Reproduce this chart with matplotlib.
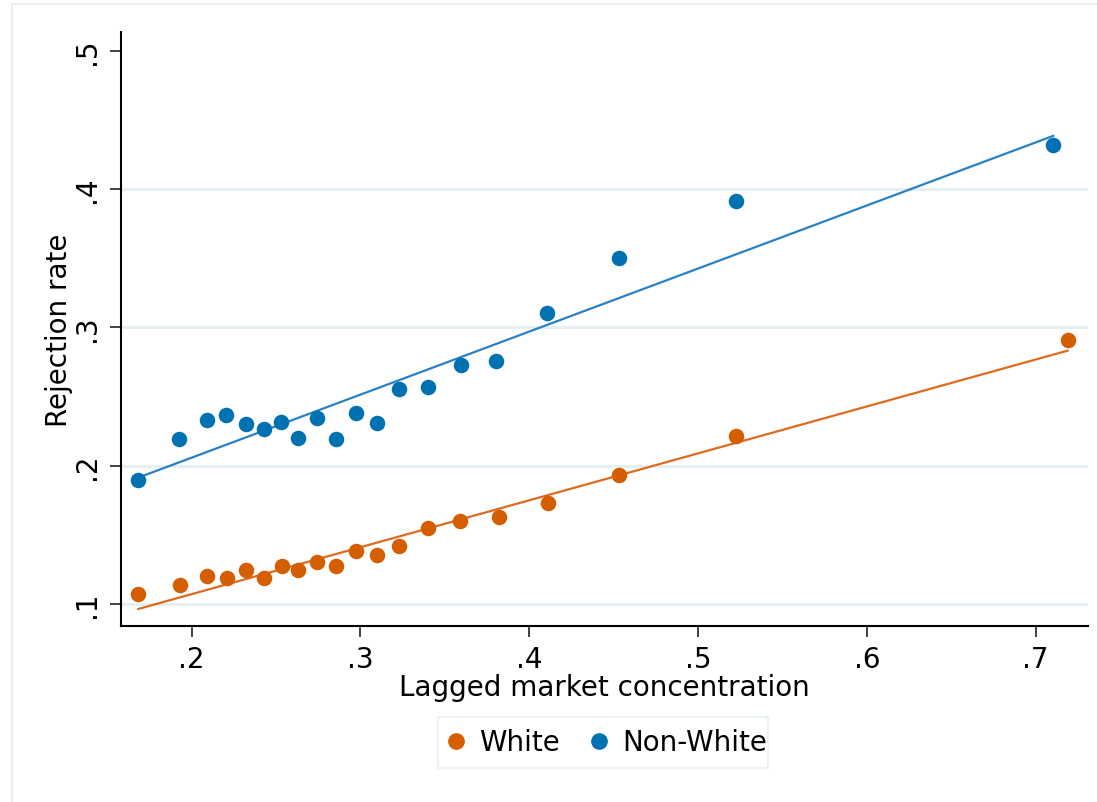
import matplotlib
matplotlib.use("Agg")
import matplotlib.pyplot as plt
from matplotlib.patches import Rectangle
from matplotlib.lines import Line2D

# ---- data ----
white_x = [0.1681, 0.1931, 0.2089, 0.2207, 0.2325, 0.2430, 0.2533, 0.2633, 0.2740,
           0.2854, 0.2972, 0.3098, 0.3231, 0.3402, 0.3592, 0.3820, 0.4112, 0.4529,
           0.5225, 0.7189]
white_y = [0.1072, 0.1140, 0.1205, 0.1190, 0.1248, 0.1186, 0.1277, 0.1246, 0.1304,
           0.1273, 0.1385, 0.1356, 0.1417, 0.1550, 0.1598, 0.1627, 0.1732, 0.1933,
           0.2213, 0.2911]
nonwhite_x = [0.1684, 0.1925, 0.2089, 0.2203, 0.2321, 0.2430, 0.2528, 0.2633, 0.2740,
              0.2854, 0.2976, 0.3101, 0.3231, 0.3400, 0.3594, 0.3802, 0.4104, 0.4529,
              0.5224, 0.7104]
nonwhite_y = [0.1899, 0.2190, 0.2327, 0.2368, 0.2301, 0.2267, 0.2315, 0.2201, 0.2346,
              0.2196, 0.2380, 0.2312, 0.2556, 0.2571, 0.2730, 0.2759, 0.3107, 0.3505,
              0.3916, 0.4319]
white_fit_x = [0.1684, 0.7189]
white_fit_y = [0.0964, 0.2832]
nonwhite_fit_x = [0.1684, 0.7104]
nonwhite_fit_y = [0.1914, 0.4385]
x_ticks = [0.2, 0.3, 0.4, 0.5, 0.6, 0.7]
x_ticklabels = [".2", ".3", ".4", ".5", ".6", ".7"]
y_ticks = [0.1, 0.2, 0.3, 0.4, 0.5]
y_ticklabels = [".1", ".2", ".3", ".4", ".5"]

# ---- style ----
ORANGE = "#D55E00"
BLUE = "#0072B2"
ORANGE_LINE = "#DD6A1E"
BLUE_LINE = "#2A80C0"
GRID = "#E4EFF2"
FRAME = "#E8F0F3"
FS = 20

plt.rcParams['font.family'] = ['DejaVu Sans']

fig = plt.figure(figsize=(10.97, 8.03), dpi=100)
W, H = 1097, 803

# outer frame (only left/top visible)
fig.patches.append(Rectangle((12 / W, -0.1), 1.2, 1 - 5 / H + 0.1,
                             transform=fig.transFigure, fill=False,
                             edgecolor=FRAME, linewidth=1.5))

ax = fig.add_axes([120.7 / W, 1 - 627 / H, (1087.7 - 120.7) / W, (627 - 33) / H])
ax.set_xlim(0.158, 0.7308)
ax.set_ylim(0.0841, 0.5136)

for v in y_ticks[:-1]:
    ax.axhline(v, color=GRID, linewidth=2, zorder=0)

ax.plot(white_fit_x, white_fit_y, color=ORANGE_LINE, linewidth=1.6, zorder=2)
ax.plot(nonwhite_fit_x, nonwhite_fit_y, color=BLUE_LINE, linewidth=1.6, zorder=2)
ax.scatter(white_x, white_y, s=125, color=ORANGE, linewidths=0, zorder=3)
ax.scatter(nonwhite_x, nonwhite_y, s=125, color=BLUE, linewidths=0, zorder=3)

ax.spines['top'].set_visible(False)
ax.spines['right'].set_visible(False)
ax.spines['left'].set_linewidth(1.5)
ax.spines['bottom'].set_linewidth(1.5)

ax.set_xticks(x_ticks)
ax.set_xticklabels(x_ticklabels, fontsize=FS)
ax.set_yticks(y_ticks)
ax.set_yticklabels(y_ticklabels, fontsize=FS, rotation=90, va='center')
ax.tick_params(axis='both', length=8, width=1.3, pad=6, color="#333333")

ax.set_xlabel("Lagged market concentration", fontsize=FS, labelpad=0)
ax.set_ylabel("Rejection rate", fontsize=FS, labelpad=0.5)

# legend box
fig.patches.append(Rectangle((437.7 / W, 1 - 769.3 / H), (768.3 - 437.7) / W,
                             (769.3 - 717.7) / H, transform=fig.transFigure,
                             fill=False, edgecolor=FRAME, linewidth=1.2))

handles = [Line2D([], [], marker='o', linestyle='none', color=ORANGE, markersize=11),
           Line2D([], [], marker='o', linestyle='none', color=BLUE, markersize=11)]
leg = fig.legend(handles, ["White", "Non-White"], loc='center left',
                 bbox_to_anchor=(446.3 / W, 1 - 743.5 / H), ncol=2, fontsize=FS,
                 frameon=False, handlelength=0.7, handletextpad=0.48,
                 columnspacing=1.07, borderpad=0, borderaxespad=0)

fig.savefig("out.png", dpi=100)
